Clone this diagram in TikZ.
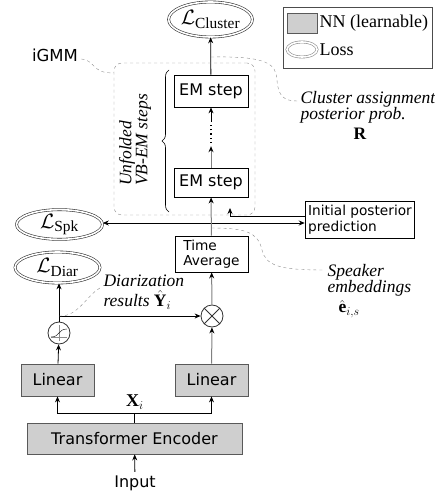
\documentclass[tikz,border=0pt]{standalone}
\usepackage{fontspec}
\setmainfont{Liberation Serif}
\setsansfont{DejaVu Sans}
\usepackage{amsmath, amssymb}
\usetikzlibrary{positioning, arrows.meta, calc, shapes.geometric, decorations.pathreplacing}

\newcommand{\lossname}[1]{$\mathcal{L}_{\text{#1}}$}

\begin{document}
\begin{tikzpicture}[
    x=1pt, y=-1pt,
    >={Stealth[length=6pt, width=5pt]},
    nn/.style={draw=black!65, fill=black!19, line width=0.8pt, inner sep=0pt, font=\fontsize{16}{19}\sffamily},
    blk/.style={draw=black, line width=0.8pt, fill=white, inner sep=0pt, font=\fontsize{16}{19}\sffamily},
    smallblk/.style={draw=black, line width=0.8pt, fill=white, inner sep=3pt, align=left, font=\fontsize{13.7}{15.5}\sffamily},
    loss/.style={ellipse, draw=black!80, double, double distance=1.6pt, semithick, inner sep=0pt, font=\fontsize{22}{24}\selectfont},
    op/.style={circle, draw=black!80, line width=0.8pt, minimum size=22pt, inner sep=0pt},
    note/.style={font=\fontsize{17.5}{16}\selectfont\itshape, align=left},
    wavy/.style={draw=black!45, dashed, thin},
    arr/.style={->, line width=0.8pt},
    garr/.style={-{Stealth[length=6pt, width=5pt, color=black]}, draw=black!50, line width=1pt}
]
\useasboundingbox (0,0) rectangle (434,494);

% --- encoder and the two linear heads ---
\node[font=\fontsize{16}{19}\sffamily] (inp) at (135,483) {Input};
\node[nn, minimum width=215pt, minimum height=31pt] (enc) at (134.5,438.5) {Transformer Encoder};
\node[nn, minimum width=73pt, minimum height=32pt] (linL) at (57.5,380) {Linear};
\node[nn, minimum width=73pt, minimum height=32pt] (linR) at (211.5,380) {Linear};
\coordinate (fork) at (134.5,413);
\node[font=\fontsize{18}{20}\selectfont] (xi) at (135,402) {$\mathbf{X}_i$};

\draw[arr] (inp) -- (enc);
\draw[line width=0.8pt] (enc.north) -- (fork);
\draw[arr] (fork) -| (linL.south);
\draw[arr] (fork) -| (linR.south);

% sigmoid and product
\node[op] (sig) at (59,333) {};
\draw[black!45, thin] ($(sig.center)+(-8,4)$) -- ($(sig.center)+(8,4)$);
\draw[black!45, thin] ($(sig.center)+(0,-8)$) -- ($(sig.center)+(0,8)$);
\draw[thin] ($(sig.center)+(-8,4)$) .. controls ($(sig.center)+(1,4)$) and ($(sig.center)+(-1,-4)$) .. ($(sig.center)+(8,-4)$);
\node[op, path picture={\draw (path picture bounding box.north west) -- (path picture bounding box.south east)
    (path picture bounding box.north east) -- (path picture bounding box.south west);}] (mul) at (212,316) {};

\draw[arr] (linL) -- (sig);
\draw[garr] (linR) -- (mul);

% --- losses on the left ---
\node[loss, minimum width=85pt, minimum height=31pt] (diar) at (57.5,267.5) {\lossname{Diar}};
\node[loss, minimum width=86pt, minimum height=27pt] (spk) at (59.5,224.5) {\lossname{Spk}};

\draw[arr] (sig.north) -- (sig.north |- diar.south);
\coordinate (dsplit) at (sig.north |- mul.west);
\draw[arr] (dsplit) -- (mul.west);

% --- speaker embeddings ---
\node[smallblk, minimum width=73pt, minimum height=36pt] (ta) at (211.5,254) {Time\\Average};
\draw[garr] (mul) -- (ta);

\node[smallblk, minimum width=108pt, minimum height=37pt] (init) at (360,219.5) {Initial posterior\\prediction};
\coordinate (tap) at (211.5,223);
\coordinate (fb) at (230,208);
\draw[arr] (tap) -- (tap -| spk.east);
\draw[arr] (tap) -- (tap -| init.west);
\draw[arr] ([yshift=3.5pt]init.west) -| (fb);

% --- unfolded iGMM ---
\node[blk, minimum width=74pt, minimum height=29pt] (em1) at (211,182.5) {EM step};
\node[inner sep=0pt, minimum width=4pt, minimum height=18pt] (dots) at (211,134) {};
\node[blk, minimum width=74pt, minimum height=32pt] (em2) at (211,91) {EM step};
\node[loss, minimum width=79pt, minimum height=35pt] (cl) at (210.5,19.5) {\lossname{Cluster}};

\draw[line width=1.3pt, dash pattern=on 1.3pt off 3pt] (dots.south) -- (dots.north);
\draw[garr] (ta) -- (em1);
\draw[garr] (em1) -- ([yshift=-3pt]dots.south);
\draw[arr] ([yshift=3pt]dots.north) -- (em2);
\draw[arr] (em2) -- (cl);

\node[draw=black!45, dashed, rounded corners=8pt, minimum width=141pt, minimum height=152pt] (igmm) at (184.5,139) {};
\draw[decorate, decoration={brace, amplitude=7pt}, semithick] (169,212) -- (169,70);
\node[note, rotate=90] (unf) at (135,140) {Unfolded\\VB-EM steps};

\node[font=\fontsize{16.5}{19}\sffamily] (igmmlbl) at (55,55) {iGMM};
\draw[wavy] ([yshift=-4pt]igmmlbl.east) .. controls (95,60) and (92,74) .. ([yshift=-10pt]igmm.north west);

% --- annotations ---
\node[note, anchor=west] (clnote) at (297,115) {Cluster assignment\\posterior prob.\\[4pt]\hspace*{53pt}$\mathbf{R}$};
\coordinate (cltap) at (211,57);
\draw[wavy] (cltap) .. controls (268,56) and (276,64) .. (277,80) .. controls (278,96) and (284,101) .. ([yshift=14pt]clnote.west);

\node[note, anchor=west] (spknote) at (324,291) {Speaker\\embeddings\\[3pt]\hspace*{11pt}$\hat{\mathbf{e}}_{i,s}$};
\coordinate (spktap) at (211.5,228);
\draw[wavy] (spktap) .. controls (245,228) and (258,232) .. (262,250) .. controls (266,266) and (280,270) .. ([yshift=21pt]spknote.west);

\node[note, anchor=west] (diarnote) at (100,292) {Diarization\\[3pt]results $\hat{\mathbf{Y}}_i$};
\draw[wavy] (dsplit) .. controls (78,317) and (86,296) .. ([yshift=4pt]diarnote.west);

% --- legend ---
\node[draw=black!70, semithick, minimum width=149pt, minimum height=61pt] (legend) at (357.5,37.5) {};
\node[nn, minimum width=30pt, minimum height=20pt] (legnn) at (302,23) {};
\node[loss, draw=black!45, minimum width=30pt, minimum height=15pt] (legloss) at (302,49.5) {};
\node[font=\fontsize{18}{20}\selectfont, anchor=west, inner sep=2pt] (legnntxt) at (legnn.east) {NN (learnable)};
\node[font=\fontsize{18}{20}\selectfont, anchor=west, inner sep=2pt] (leglosstxt) at (legloss.east) {Loss};
\end{tikzpicture}
\end{document}
